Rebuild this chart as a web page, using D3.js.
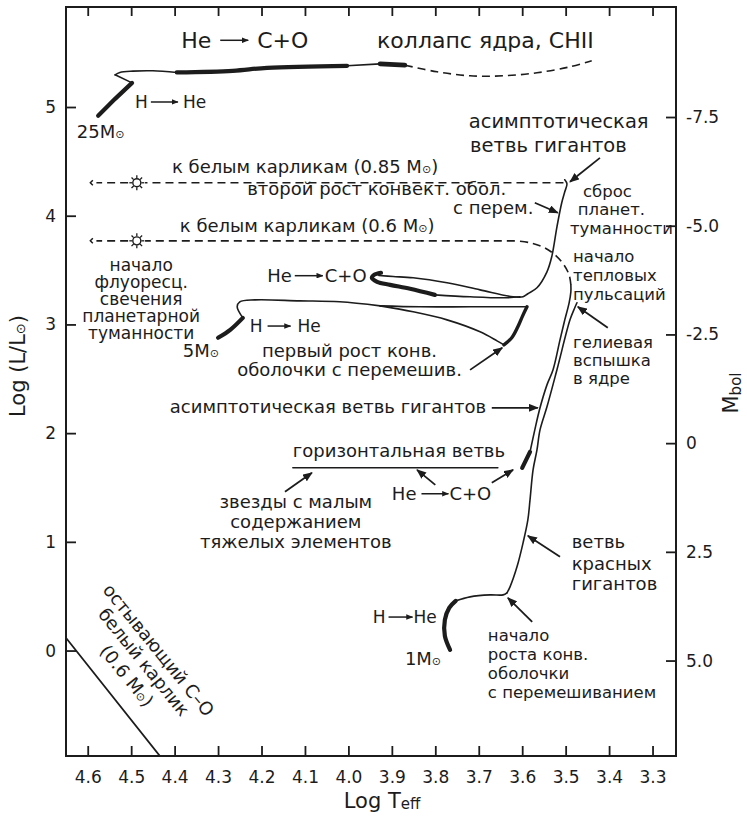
<!DOCTYPE html>
<html>
<head>
<meta charset="utf-8">
<script src="https://cdn.jsdelivr.net/npm/d3@7"></script>
<style>
  body { margin: 0; background: #fff; }
  svg { font-family: "DejaVu Sans", Verdana, sans-serif; }
</style>
</head>
<body>
<svg id="hr" width="747" height="818"></svg>
<script>
// ticks
let tempTicks = [4.6, 4.5, 4.4, 4.3, 4.2, 4.1, 4.0, 3.9, 3.8, 3.7, 3.6, 3.5, 3.4, 3.3]
let lumTicks = [0, 1, 2, 3, 4, 5]
let mbolTicks = [-7.5, -5, -2.5, 0, 2.5, 5]
let mbolLabels = ["-7.5", "-5.0", "-2.5", "0", "2.5", "5.0"]
let mSun = 4.77

// tracks, points are [log Teff, log L]
// 25 Msun
let ms25 = [[4.576, 4.919], [4.537, 5.075], [4.498, 5.222]]
let hookA25 = [[4.498, 5.222], [4.537, 5.296]]
let hookB25 = [[4.537, 5.296], [4.526, 5.318], [4.496, 5.330], [4.450, 5.333], [4.395, 5.318]]
let heBurn25 = [[4.395, 5.318], [4.266, 5.333], [4.187, 5.360], [4.003, 5.379]]
let cross25 = [[4.003, 5.379], [3.927, 5.397]]
let carbon25 = [[3.927, 5.397], [3.870, 5.385]]
let collapse25 = [[3.870, 5.385], [3.796, 5.324], [3.720, 5.287], [3.644, 5.287], [3.566, 5.315], [3.490, 5.370], [3.440, 5.425]]

// 5 Msun
let ms5 = [[4.300, 2.877], [4.272, 2.950], [4.243, 3.060]]
let hook5 = [[4.243, 3.060], [4.256, 3.162], [4.250, 3.208], [4.215, 3.226], [4.112, 3.217], [4.020, 3.208], [3.927, 3.171]]
let gapTop5 = [[3.927, 3.171], [3.835, 3.162], [3.720, 3.162], [3.589, 3.162]]
let gapLow5 = [[3.927, 3.171], [3.851, 3.116], [3.773, 3.042], [3.697, 2.932], [3.658, 2.849], [3.642, 2.812]]
let rgb5 = [[3.642, 2.812], [3.624, 2.877], [3.610, 2.978], [3.599, 3.079], [3.589, 3.162]]
let loopCore5 = [[3.925, 3.475], [3.941, 3.456], [3.946, 3.429], [3.934, 3.392], [3.904, 3.364], [3.858, 3.328], [3.801, 3.272]]
let loopBack5 = [[3.801, 3.272], [3.720, 3.254], [3.640, 3.245], [3.605, 3.254]]
let agb5 = [[3.930, 3.450], [3.897, 3.441], [3.851, 3.429], [3.773, 3.383], [3.697, 3.318], [3.621, 3.254], [3.598, 3.254],
            [3.587, 3.282], [3.566, 3.337], [3.543, 3.484], [3.532, 3.622], [3.520, 3.898], [3.509, 4.119], [3.502, 4.220], [3.497, 4.294], [3.502, 4.331]]

// 1 Msun
let ms1 = [[3.766, 0.006], [3.778, 0.135], [3.778, 0.282], [3.768, 0.393], [3.753, 0.457]]
let subgiant1 = [[3.753, 0.457], [3.720, 0.494], [3.674, 0.512], [3.644, 0.512], [3.635, 0.531]]
let rgb1 = [[3.635, 0.531], [3.628, 0.586], [3.612, 0.770], [3.598, 0.991], [3.587, 1.202], [3.582, 1.386], [3.575, 1.662],
            [3.566, 1.846], [3.559, 2.030], [3.543, 2.242], [3.520, 2.583], [3.490, 3.042], [3.479, 3.153], [3.474, 3.199]]
let clump1 = [[3.600, 1.681], [3.591, 1.754], [3.582, 1.828]]
let agb1 = [[3.582, 1.828], [3.571, 2.030], [3.559, 2.233], [3.543, 2.444], [3.529, 2.583], [3.513, 2.858], [3.502, 3.042], [3.492, 3.199], [3.488, 3.300], [3.488, 3.364]]
let postAgb1 = [[3.488, 3.364], [3.492, 3.456], [3.504, 3.548], [3.522, 3.631], [3.548, 3.705], [3.582, 3.751], [3.617, 3.769]]

// paths to white dwarfs
let toWd06 = [[3.617, 3.769], [4.468, 3.769]]
let toWd085 = [[3.505, 4.303], [4.468, 4.303]]
let tailWd = [4.507, 4.580]
let wdLevels = [4.303, 3.769]
let nucleusT = 4.487
let wdEndT = 4.594

let hbLine = [[4.128, 1.681], [3.656, 1.681]]
let wdCool = [[4.655, 0.142], [4.430, -0.99]]

// annotation arrows, [from, to]
let arrows = [
  [[3.421, 4.532], [3.490, 4.312]],
  [[3.571, 4.119], [3.518, 4.027]],
  [[3.720, 2.582], [3.646, 2.785]],
  [[3.403, 2.969], [3.472, 3.162]],
  [[3.670, 2.233], [3.564, 2.233]],
  [[3.800, 1.524], [3.842, 1.662]],
  [[3.670, 1.543], [3.621, 1.662]],
  [[4.146, 1.460], [4.084, 1.635]],
  [[3.513, 0.862], [3.587, 1.055]],
  [[3.577, 0.264], [3.633, 0.485]]
]

// nuclear reactions: [from, to, log Teff, log L]
let reactions = [
  ["He", "C+O", 4.385, 5.545],
  ["H", "He", 4.491, 4.993],
  ["He", "C+O", 4.187, 3.392],
  ["H", "He", 4.227, 2.932],
  ["He", "C+O", 3.900, 1.386],
  ["H", "He", 3.944, 0.255]
]

// text notes, anchored at their start
let notesStart = [
  ["25M⊙", 4.625, 4.715],
  ["к белым карликам (0.85 M⊙)", 4.406, 4.395],
  ["второй рост конвект. обол.", 4.233, 4.187],
  ["с перем.", 3.759, 4.018],
  ["к белым карликам (0.6 M⊙)", 4.388, 3.852],
  ["5M⊙", 4.381, 2.702],
  ["первый рост конв.", 4.199, 2.702],
  ["оболочки с перемешив.", 4.256, 2.527],
  ["асимптотическая ветвь гигантов", 4.411, 2.187],
  ["горизонтальная ветвь", 4.128, 1.782],
  ["ветвь", 3.486, 0.945],
  ["красных", 3.486, 0.742],
  ["гигантов", 3.486, 0.558],
  ["1M⊙", 3.870, -0.132]
]
// narrow columns near the right edge
let notesSide = [
  ["сброс", 3.460, 4.174],
  ["планет.", 3.472, 4.008],
  ["туманности", 3.490, 3.833],
  ["начало", 3.483, 3.575],
  ["тепловых", 3.483, 3.400],
  ["пульсаций", 3.483, 3.227],
  ["гелиевая", 3.483, 2.785],
  ["вспышка", 3.483, 2.619],
  ["в ядре", 3.483, 2.454],
  ["начало", 3.679, 0.089],
  ["роста конв.", 3.679, -0.086],
  ["оболочки", 3.679, -0.261],
  ["с перемешиванием", 3.679, -0.436]
]
let notesBig = [
  ["коллапс ядра, CHII", 3.934, 5.545]
]
let notesAgbTop = [
  ["асимптотическая", 3.723, 4.809],
  ["ветвь гигантов", 3.720, 4.588]
]
// centred notes
let notesMiddle = [
  ["звезды с малым", 4.121, 1.313],
  ["содержанием", 4.121, 1.129],
  ["тяжелых элементов", 4.121, 0.945]
]
let notesNebula = [
  ["начало", 4.477, 3.493],
  ["флуоресц.", 4.477, 3.337],
  ["свечения", 4.477, 3.180],
  ["планетарной", 4.477, 3.024],
  ["туманности", 4.477, 2.868]
]
let wdNote = ["остывающий C–O", "белый карлик", "(0.6 M⊙)"]
let wdNoteAt = [4.473, -0.113]

const INK = "#1c1c1c"
let frame = { left: 66, right: 676, top: 7, bottom: 756 }

let svg = d3.select("#hr")

let x = d3.scaleLinear().domain([4.65, 3.246]).range([frame.left, frame.right])
let y = d3.scaleLinear().domain([-0.97, 5.92]).range([frame.bottom, frame.top])
let yMag = d3.scaleLinear().domain([mSun + 2.5 * 0.97, mSun - 2.5 * 5.92]).range([frame.bottom, frame.top])

let defs = svg.append("defs")
defs.append("clipPath").attr("id", "plot")
  .append("rect").attr("x", frame.left).attr("y", frame.top)
  .attr("width", frame.right - frame.left).attr("height", frame.bottom - frame.top)
defs.append("marker").attr("id", "head").attr("viewBox", "0 0 10 8")
  .attr("refX", 9).attr("refY", 4).attr("markerWidth", 10).attr("markerHeight", 8)
  .attr("markerUnits", "userSpaceOnUse").attr("orient", "auto")
  .append("path").attr("d", "M0,0 L10,4 L0,8 Z").attr("fill", INK)
defs.append("marker").attr("id", "headSmall").attr("viewBox", "0 0 10 8")
  .attr("refX", 9).attr("refY", 4).attr("markerWidth", 7).attr("markerHeight", 5.6)
  .attr("markerUnits", "userSpaceOnUse").attr("orient", "auto")
  .append("path").attr("d", "M0,0 L10,4 L0,8 Z").attr("fill", INK)

// axes
function styleAxis(g) {
  g.select(".domain").remove()
  g.attr("font-family", "DejaVu Sans").attr("font-size", 17).style("color", INK)
  g.selectAll("line").attr("stroke-width", 1.8)
}
svg.append("g").attr("transform", `translate(0,${frame.bottom})`)
  .call(d3.axisBottom(x).tickValues(tempTicks).tickSize(-10).tickPadding(15).tickFormat(d3.format(".1f")))
  .call(styleAxis)
svg.append("g").attr("transform", `translate(0,${frame.top})`)
  .call(d3.axisTop(x).tickValues(tempTicks).tickSize(-9).tickFormat(""))
  .call(styleAxis)
svg.append("g").attr("transform", `translate(${frame.left},0)`)
  .call(d3.axisLeft(y).tickValues(lumTicks).tickSize(-10).tickPadding(10).tickFormat(d3.format("d")))
  .call(styleAxis)
svg.append("g").attr("transform", `translate(${frame.right},0)`)
  .call(d3.axisRight(yMag).tickValues(mbolTicks).tickSize(-10).tickPadding(10).tickFormat((d, i) => mbolLabels[i]))
  .call(styleAxis)

svg.append("rect").attr("x", frame.left).attr("y", frame.top)
  .attr("width", frame.right - frame.left).attr("height", frame.bottom - frame.top)
  .attr("fill", "none").attr("stroke", INK).attr("stroke-width", 2)

// text helper, a sun sign is drawn smaller
function addText(t, str, size) {
  let parts = str.split("⊙")
  parts.forEach((p, i) => {
    if (p) t.append("tspan").attr("font-size", size).text(p)
    if (i < parts.length - 1) t.append("tspan").attr("font-size", size * 0.62).text("⊙")
  })
  return t
}

// axis titles
addText(svg.append("text").attr("transform", "translate(25,366) rotate(-90)")
  .attr("text-anchor", "middle").attr("fill", INK), "Log (L/L⊙)", 21)
let mb = svg.append("text").attr("transform", "translate(738,393) rotate(-90)")
  .attr("text-anchor", "middle").attr("fill", INK)
mb.append("tspan").attr("font-size", 21).text("M")
mb.append("tspan").attr("font-size", 15).attr("dy", 3).text("bol")
let lt = svg.append("text").attr("x", 382).attr("y", 808).attr("text-anchor", "middle").attr("fill", INK)
lt.append("tspan").attr("font-size", 21).text("Log T")
lt.append("tspan").attr("font-size", 15).attr("dy", 1).text("eff")

// plot layer
let plot = svg.append("g").attr("clip-path", "url(#plot)")

let smooth = d3.line().x(d => x(d[0])).y(d => y(d[1])).curve(d3.curveCatmullRom.alpha(0.5))
let straight = d3.line().x(d => x(d[0])).y(d => y(d[1]))

function track(pts, w, dash, gen) {
  plot.append("path").attr("d", (gen || smooth)(pts))
    .attr("fill", "none").attr("stroke", INK).attr("stroke-width", w)
    .attr("stroke-linecap", dash ? "butt" : "round").attr("stroke-linejoin", "round")
    .attr("stroke-dasharray", dash || null)
}
const THIN = 1.6, THICK = 4.2, DASH = "8,5"

track(ms25, THICK, null, straight)
track(hookA25, THIN, null, straight)
track(hookB25, THIN)
track(heBurn25, THICK)
track(cross25, THIN)
track(carbon25, THICK + 0.6, null, straight)
track(collapse25, THIN, DASH)

track(ms5, THICK)
track(hook5, THIN)
track(gapTop5, THIN)
track(gapLow5, THIN)
track(rgb5, THICK - 0.8)
track(loopCore5, THICK)
track(loopBack5, THIN)
track(agb5, THIN)

track(ms1, THICK)
track(subgiant1, THIN)
track(rgb1, THIN)
track(clump1, THICK, null, straight)
track(agb1, THIN)
track(postAgb1, THIN, DASH)
track(toWd06, THIN, DASH, straight)
track(toWd085, THIN, DASH, straight)

wdLevels.forEach(l => {
  track([[tailWd[0], l], [tailWd[1], l]], THIN, DASH, straight)
  // small end mark
  let ex = x(wdEndT), ey = y(l)
  plot.append("path").attr("d", `M${ex + 2.5},${ey - 2.5} L${ex},${ey} L${ex + 2.5},${ey + 2.5}`)
    .attr("fill", "none").attr("stroke", INK).attr("stroke-width", 1.5)
  // nucleus of planetary nebula
  let st = plot.append("g").attr("transform", `translate(${x(nucleusT)},${y(l)})`)
  st.append("circle").attr("r", 4).attr("fill", "#fff").attr("stroke", INK).attr("stroke-width", 1.4)
  d3.range(8).forEach(k => {
    let a = k * Math.PI / 4
    st.append("line").attr("x1", 4.5 * Math.cos(a)).attr("y1", 4.5 * Math.sin(a))
      .attr("x2", 7.5 * Math.cos(a)).attr("y2", 7.5 * Math.sin(a))
      .attr("stroke", INK).attr("stroke-width", 1.3)
  })
})

track(hbLine, 1.5, null, straight)
track(wdCool, 1.8, null, straight)

// annotation arrows
arrows.forEach(a => {
  svg.append("line")
    .attr("x1", x(a[0][0])).attr("y1", y(a[0][1]))
    .attr("x2", x(a[1][0])).attr("y2", y(a[1][1]))
    .attr("stroke", INK).attr("stroke-width", 1.8).attr("marker-end", "url(#head)")
})

// reactions, with a drawn arrow between the two parts
let reactionStyle = [
  { size: 22, g1: 9, len: 28, g2: 9 },
  { size: 17, g1: 3, len: 27, g2: 5 },
  { size: 18, g1: 3, len: 28, g2: 2 },
  { size: 17, g1: 5, len: 23, g2: 7 },
  { size: 18, g1: 5, len: 27, g2: 1 },
  { size: 17, g1: 3, len: 24, g2: 1 }
]
reactions.forEach((r, i) => {
  let s = reactionStyle[i]
  let g = svg.append("g").attr("transform", `translate(${x(r[2])},${y(r[3])})`).attr("fill", INK)
  let t1 = g.append("text").attr("font-size", s.size).text(r[0])
  let w1 = t1.node().getComputedTextLength()
  let ay = -s.size * 0.34
  g.append("line").attr("x1", w1 + s.g1).attr("x2", w1 + s.g1 + s.len)
    .attr("y1", ay).attr("y2", ay).attr("stroke", INK).attr("stroke-width", 1.5)
    .attr("marker-end", "url(#headSmall)")
  g.append("text").attr("x", w1 + s.g1 + s.len + s.g2).attr("font-size", s.size).text(r[1])
})

function notes(list, size, anchor) {
  list.forEach(n => {
    let t = svg.append("text").attr("x", x(n[1])).attr("y", y(n[2]))
      .attr("text-anchor", anchor).attr("fill", INK)
    addText(t, n[0], size)
  })
}
notes(notesStart, 18, "start")
notes(notesSide, 16.5, "start")
notes(notesBig, 22, "start")
notes(notesAgbTop, 19.5, "start")
notes(notesMiddle, 18, "middle")
notes(notesNebula, 17, "middle")

// rotated note along the cooling line
let wg = svg.append("g").attr("transform", `translate(${x(wdNoteAt[0])},${y(wdNoteAt[1])}) rotate(51)`)
wdNote.forEach((s, i) => {
  addText(wg.append("text").attr("y", [-14, 5, 27][i]).attr("text-anchor", "middle").attr("fill", INK), s, 18)
})
</script>
</body>
</html>
